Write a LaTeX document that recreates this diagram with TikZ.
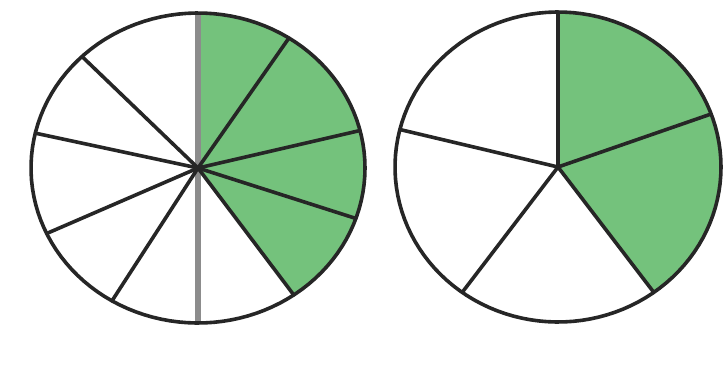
\documentclass[tikz,border=0pt]{standalone}
\definecolor{piegreen}{RGB}{116,194,124}
\begin{document}
\begin{tikzpicture}[x=1pt,y=-1pt,line width=3.6pt,
  rim/.style={draw=black!85},
  spoke/.style={draw=black!85,line cap=round},
  midline/.style={draw=black!45,line width=6pt},
  part/.style={fill=piegreen}]
\useasboundingbox (0,0) rectangle (728,368);
\fill[white] (0,0) rectangle (728,368);
% left circle: tenths
\begin{scope}[shift={(198,168)},x=167pt,y=155pt]
  \coordinate (L) at (0,0);
  \fill[part] (L) -- plot[domain=90:-55,samples=60] ({cos(\x)},{sin(\x)}) -- cycle;
  \draw[midline] (90:1) -- (270:1);
  \foreach \a in {57,14,-19,-55,134,167,205,239}
    \draw[spoke] (L) -- ({cos(\a)},{sin(\a)});
  \draw[rim] plot[domain=0:360,samples=120] ({cos(\x)},{sin(\x)}) -- cycle;
\end{scope}
% right circle: fifths
\begin{scope}[shift={(558,167)},x=163pt,y=155pt]
  \coordinate (R) at (0,0);
  \fill[part] (R) -- plot[domain=90:-54,samples=60] ({cos(\x)},{sin(\x)}) -- cycle;
  \foreach \a in {90,20,-54,-126,166}
    \draw[spoke] (R) -- ({cos(\a)},{sin(\a)});
  \draw[rim] plot[domain=0:360,samples=120] ({cos(\x)},{sin(\x)}) -- cycle;
\end{scope}
\end{tikzpicture}
\end{document}
